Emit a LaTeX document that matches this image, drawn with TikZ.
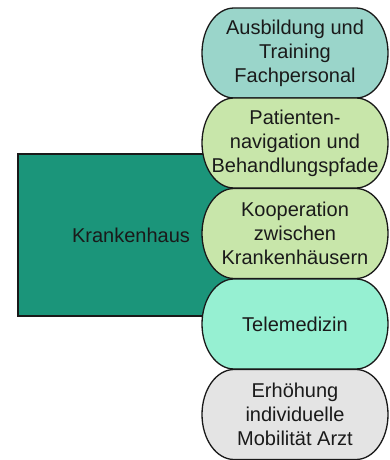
\documentclass[tikz,border=0pt]{standalone}
\usepackage{fontspec}
\setmainfont{Liberation Sans}
\definecolor{khfill}{RGB}{27,149,122}
\definecolor{pillA}{RGB}{154,213,202}
\definecolor{pillB}{RGB}{200,230,170}
\definecolor{pillC}{RGB}{150,240,210}
\definecolor{pillD}{RGB}{228,228,228}
\definecolor{txt}{RGB}{26,26,26}
\tikzset{
  pilltext/.style={align=center, font=\fontsize{20}{24}\selectfont, text=txt, inner sep=0pt},
  pillshape/.style={draw=black!90, line width=1.3pt},
  khbox/.style={draw=black!90, line width=1.3pt, fill=khfill, font=\fontsize{20}{24}\selectfont, text=txt,
    minimum width=226pt, minimum height=162pt, inner sep=0pt},
}
\newcommand\mypill[4]{%
  \draw[pillshape, fill=#3] (234,-#2) -- (356,-#2)
    arc[start angle=90, end angle=-90, x radius=32, y radius=45]
    -- (234,-#2-90)
    arc[start angle=270, end angle=90, x radius=32, y radius=45] -- cycle;
  \node[pilltext] (#1) at (295,-#2-45) {#4};
}
\begin{document}
\begin{tikzpicture}[x=1pt,y=1pt]
\useasboundingbox (0,0) rectangle (389,-460);
\node[khbox] (kh) at (131,-235) {Krankenhaus};
\mypill{p1}{8}{pillA}{Ausbildung und\\Training\\Fachpersonal}
\mypill{p2}{98}{pillB}{Patienten-\\navigation und\\Behandlungspfade}
\mypill{p3}{188.5}{pillB}{Kooperation\\zwischen\\Krankenhäusern}
\mypill{p4}{279}{pillC}{Telemedizin}
\mypill{p5}{369.5}{pillD}{Erhöhung\\individuelle\\Mobilität Arzt}
\end{tikzpicture}
\end{document}
